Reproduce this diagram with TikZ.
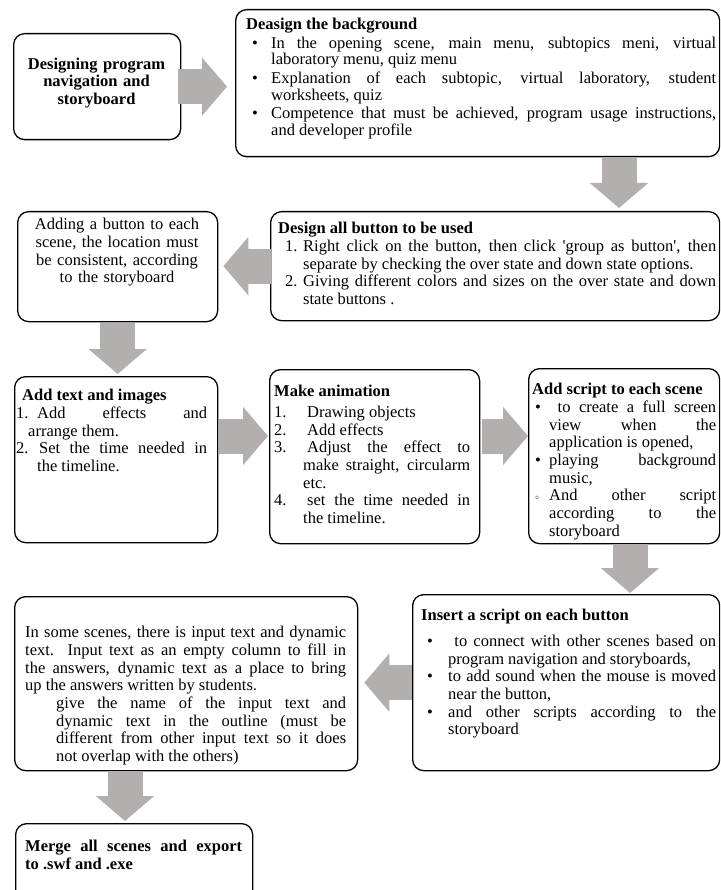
\documentclass[tikz,border=0pt]{standalone}
\usepackage{fontspec}
\setmainfont{Liberation Serif}
\usetikzlibrary{arrows.meta}
\definecolor{arrowgray}{RGB}{179,175,175}
\newcommand{\stepitem}[3]{\par\hangindent=#1\hangafter=1\noindent\makebox[#2][l]{#3}\ignorespaces}
\newcommand{\bul}{\textbullet}

\begin{document}
\begin{tikzpicture}[x=1pt, y=-1pt,
  flowbox/.style={draw, line width=1.3pt, rounded corners=11pt, anchor=north west, inner sep=0pt},
  boxtext/.style={anchor=north west, inner sep=0pt, align=justify, font=\fontsize{16.5}{17.7}\selectfont},
  fatarrow/.style={draw=arrowgray, line width=35pt, -{Triangle[width=57pt, length=25pt]}}]

  \useasboundingbox (0,0) rectangle (720,890);
  \clip (0,0) rectangle (720,890);

  % row 1
  \node[flowbox, minimum width=167pt, minimum height=106pt] (nav) at (13,33) {};
  \node[flowbox, minimum width=484pt, minimum height=147pt] (bg) at (235,9) {};
  % row 2
  \node[flowbox, minimum width=200pt, minimum height=110pt] (addbtn) at (17,211) {};
  \node[flowbox, minimum width=449pt, minimum height=109pt] (btn) at (270,211) {};
  % row 3
  \node[flowbox, minimum width=203pt, minimum height=166pt] (txtimg) at (14,376) {};
  \node[flowbox, minimum width=210pt, minimum height=174pt] (anim) at (269,369) {};
  \node[flowbox, minimum width=191pt, minimum height=175pt] (scene) at (528,368) {};
  % row 4
  \node[flowbox, minimum width=343pt, minimum height=174pt] (input) at (14,596) {};
  \node[flowbox, minimum width=307pt, minimum height=176pt] (btnscript) at (412,594) {};
  % row 5
  \node[flowbox, minimum width=237pt, minimum height=100pt] (merge) at (15,823) {};

  % box texts
  \node[boxtext, text width=167pt, align=center, anchor=center, font=\bfseries\fontsize{16.5}{17.5}\selectfont] (navtxt) at (96.5,83) {Designing program\\navigation and\\storyboard};

  \node[boxtext, text width=470pt, font=\fontsize{16.5}{16.6}\selectfont] (bgtxt) at (246,18) {\parskip=2pt
    \textbf{Deasign the background}
    \stepitem{25pt}{25pt}{\hspace{6pt}\bul}In the opening scene, main menu, subtopics meni, virtual\linebreak laboratory menu, quiz menu
    \stepitem{25pt}{25pt}{\hspace{6pt}\bul}Explanation of each subtopic, virtual laboratory, student\linebreak worksheets, quiz
    \stepitem{25pt}{25pt}{\hspace{6pt}\bul}Competence that must be achieved, program usage instructions,\linebreak and developer profile\par};

  \node[boxtext, text width=200pt, align=center, anchor=north] (addbtntxt) at (117,218) {Adding a button to each\\scene, the location must\\be consistent, according\\to the storyboard};

  \node[boxtext, text width=438pt] (btntxt) at (278,222) {\textbf{Design all button to be used}
    \stepitem{25pt}{25pt}{\hspace{7pt}1.}Right click on the button, then click \textquotesingle group as button\textquotesingle, then\linebreak separate by checking the over state and down state options.
    \stepitem{25pt}{25pt}{\hspace{7pt}2.}Giving different colors and sizes on the over state and down\linebreak state buttons .\par};

  \node[boxtext, text width=191pt] (txtimgtxt) at (16,389) {\hspace*{6pt}\textbf{Add text and images}
    \stepitem{12pt}{21pt}{1.}Add effects and\linebreak arrange them.
    \stepitem{21pt}{23pt}{2.}Set the time needed in\linebreak the timeline.\par};

  \node[boxtext, text width=196pt] (animtxt) at (274,385) {\textbf{Make animation}\par\vspace{3pt}
    \stepitem{29pt}{33pt}{1.}Drawing objects
    \stepitem{29pt}{33pt}{2.}Add effects
    \stepitem{29pt}{33pt}{3.}Adjust the effect to\linebreak make straight, circularm\linebreak etc.
    \stepitem{29pt}{33pt}{4.}set the time needed in\linebreak the timeline.\par};

  \node[boxtext, text width=184pt] (scenetxt) at (532,383) {\textbf{Add script to each scene}
    \stepitem{17pt}{17pt}{\hspace{3pt}\bul}\ to create a full screen\linebreak view when the\linebreak application is opened,
    \stepitem{17pt}{17pt}{\hspace{3pt}\bul}playing background\linebreak music,
    \stepitem{17pt}{17pt}{\hspace{3pt}\raisebox{1pt}{\scriptsize$\circ$}}And other script\linebreak according to the\linebreak storyboard\par};

  \node[boxtext, text width=295pt] (btnscripttxt) at (421,609) {\textbf{Insert a script on each button}\par\vspace{8pt}
    \stepitem{27pt}{27pt}{\hspace{6pt}\bul}\ to connect with other scenes based on\linebreak program navigation and storyboards,
    \stepitem{27pt}{27pt}{\hspace{6pt}\bul}to add sound when the mouse is moved\linebreak near the button,
    \stepitem{27pt}{27pt}{\hspace{6pt}\bul}and other scripts according to the\linebreak storyboard\par};

  \node[boxtext, text width=321pt] (inputtxt) at (25,626) {In some scenes, there is input text and dynamic\linebreak text. Input text as an empty column to fill in\linebreak the answers, dynamic text as a place to bring\linebreak up the answers written by students.\par
    {\leftskip=31pt give the name of the input text and\linebreak dynamic text in the outline (must be\linebreak different from other input text so it does\linebreak not overlap with the others)\par}};

  \node[boxtext, text width=217pt, font=\bfseries\fontsize{16.5}{17.7}\selectfont] (mergetxt) at (25,840) {Merge all scenes and export\linebreak to .swf and .exe};

  % axis points of the block arrows
  \coordinate (ax2) at (619,0);
  \coordinate (ay5) at (0,436);
  \coordinate (ax7) at (630,0);
  \coordinate (ax9) at (125,0);

  % block arrows
  \draw[fatarrow, shorten <=-3pt, shorten >=8pt] (nav.east) -- (bg.west |- nav.east);
  \draw[fatarrow, shorten >=3pt] (bg.south -| ax2) -- (btn.north -| ax2);
  \draw[fatarrow, shorten <=-1pt, shorten >=5pt] (btn.west) -- (addbtn.east |- btn.west);
  \draw[fatarrow, shorten <=1pt, shorten >=2pt] (addbtn.south) -- (addbtn.south |- txtimg.north);
  \draw[fatarrow, shorten <=1pt, shorten >=1pt] (txtimg.east |- ay5) -- (anim.west |- ay5);
  \draw[fatarrow, shorten <=2pt] (anim.east |- ay5) -- (scene.west |- ay5);
  \draw[fatarrow, shorten >=1pt] (scene.south -| ax7) -- (btnscript.north -| ax7);
  \draw[fatarrow, shorten >=6pt] (btnscript.west) -- (input.east |- btnscript.west);
  \draw[fatarrow, shorten >=2pt] (input.south -| ax9) -- (merge.north -| ax9);

\end{tikzpicture}
\end{document}
